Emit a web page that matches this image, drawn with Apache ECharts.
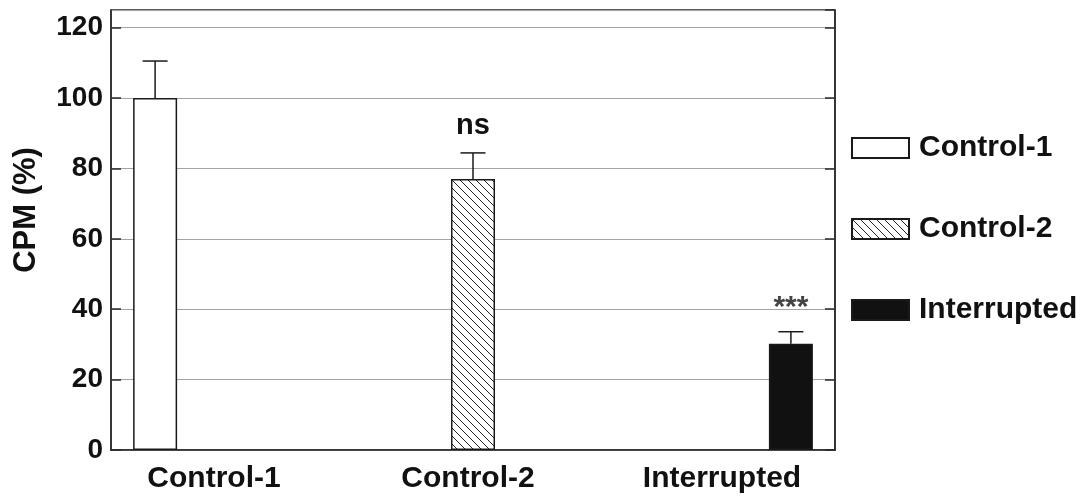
<!DOCTYPE html>
<html>
<head>
<meta charset="utf-8">
<style>
  html, body { margin: 0; padding: 0; background: #fff; }
  #chart { width: 1088px; height: 498px; }
</style>
<script src="https://cdn.jsdelivr.net/npm/echarts@6/dist/echarts.min.js"></script>
</head>
<body>
<div id="chart"></div>
<script>
// Group names, mean CPM (%) and SEM for each group
const categories = ['Control-1', 'Control-2', 'Interrupted'];
const meanValues = [100, 77, 30.2];
const errValues = [10.5, 7.4, 3.4];
const sigLabels = ['', 'ns', '***'];

const FONT = '"Liberation Sans", Arial, Helvetica, sans-serif';
const BAR_W = 44;
const BAR_GAP = 0.74;

// diagonal hatch tile for the Control-2 bar
function hatchPattern() {
  const s = 8;
  const c = document.createElement('canvas');
  c.width = s; c.height = s;
  const g = c.getContext('2d');
  g.fillStyle = '#fff';
  g.fillRect(0, 0, s, s);
  g.strokeStyle = '#222';
  g.lineWidth = 1;
  for (let k = -1; k <= 1; k++) {
    g.beginPath();
    g.moveTo(k * s, 0);
    g.lineTo(k * s + s, s);
    g.stroke();
  }
  return c;
}

const fills = ['#ffffff', { image: hatchPattern(), repeat: 'repeat' }, '#111111'];

const chart = echarts.init(document.getElementById('chart'), null, { renderer: 'canvas' });

// one series per group, each holding a value only in its own category
const barSeries = categories.map((name, i) => ({
  name: name,
  type: 'bar',
  xAxisIndex: 0,
  yAxisIndex: 0,
  barWidth: BAR_W,
  barGap: (BAR_GAP * 100) + '%',
  itemStyle: { color: fills[i], borderColor: '#1a1a1a', borderWidth: 1.5 },
  data: categories.map((_, j) => (j === i ? meanValues[i] : '-')),
  z: 2
}));

const errorData = categories.map((_, i) => [i, meanValues[i], errValues[i]]);

const errorSeries = {
  type: 'custom',
  xAxisIndex: 0,
  yAxisIndex: 0,
  data: errorData,
  z: 3,
  silent: true,
  renderItem: function (params, api) {
    const idx = api.value(0);
    const mean = api.value(1);
    const err = api.value(2);
    const shift = (idx - 1) * BAR_W * (1 + BAR_GAP);
    const base = api.coord([idx, mean]);
    const top = api.coord([idx, mean + err]);
    const x = base[0] + shift;
    const lineStyle = { stroke: '#1a1a1a', lineWidth: 1.5 };
    const children = [
      { type: 'line', shape: { x1: x, y1: base[1], x2: x, y2: top[1] }, style: lineStyle },
      { type: 'line', shape: { x1: x - 12.5, y1: top[1], x2: x + 12.5, y2: top[1] }, style: lineStyle }
    ];
    const sig = sigLabels[params.dataIndex];
    if (sig) {
      const stars = sig.indexOf('*') >= 0;
      children.push({
        type: 'text',
        x: x,
        y: top[1] - (stars ? 24 : 27),
        style: {
          text: sig,
          fontFamily: FONT,
          fontWeight: 'bold',
          fontSize: stars ? 30 : 29,
          fill: stars ? '#444' : '#111',
          align: 'center',
          verticalAlign: 'middle'
        }
      });
    }
    return { type: 'group', children: children };
  }
};

const yCommon = {
  type: 'value',
  min: 0,
  max: 125,
  interval: 20
};

chart.setOption({
  animation: false,
  backgroundColor: '#ffffff',
  grid: [
    { left: 111, right: 253, top: 10, bottom: 48, show: true, borderColor: '#2a2a2a', borderWidth: 1.5, backgroundColor: 'transparent' },
    { left: 87, right: 239, top: 10, bottom: 48, show: false }
  ],
  legend: {
    orient: 'vertical',
    left: 851,
    top: 133,
    padding: 0,
    itemWidth: 57,
    itemHeight: 20,
    itemGap: 51,
    icon: 'rect',
    data: categories,
    textStyle: { fontFamily: FONT, fontWeight: 'bold', fontSize: 30, color: '#111', padding: [0, 0, 0, 5] }
  },
  xAxis: [
    {
      type: 'category',
      gridIndex: 0,
      data: categories,
      axisLine: { lineStyle: { color: '#2a2a2a', width: 1.5 } },
      axisTick: { show: false },
      axisLabel: { show: false },
      splitLine: { show: false }
    },
    {
      type: 'category',
      gridIndex: 1,
      data: categories,
      axisLine: { show: false },
      axisTick: { show: false },
      splitLine: { show: false },
      axisLabel: { fontFamily: FONT, fontWeight: 'bold', fontSize: 30, color: '#111', margin: 14 }
    }
  ],
  yAxis: [
    Object.assign({}, yCommon, {
      gridIndex: 0,
      position: 'left',
      name: 'CPM (%)',
      nameLocation: 'middle',
      nameGap: 69,
      nameTextStyle: { fontFamily: FONT, fontWeight: 'bold', fontSize: 31, color: '#111', padding: [0, 0, 0, 40] },
      axisLine: { show: true, lineStyle: { color: '#2a2a2a', width: 1.5 } },
      axisTick: { show: true, inside: true, length: 10, lineStyle: { color: '#2a2a2a', width: 1.5 } },
      axisLabel: { fontFamily: FONT, fontWeight: 'bold', fontSize: 28, color: '#111', margin: 8, showMaxLabel: false },
      splitLine: { show: true, lineStyle: { color: '#a3a3a3', width: 1 } }
    }),
    Object.assign({}, yCommon, {
      gridIndex: 0,
      position: 'right',
      axisLine: { show: true, lineStyle: { color: '#2a2a2a', width: 1.5 } },
      axisTick: { show: true, inside: true, length: 10, lineStyle: { color: '#2a2a2a', width: 1.5 } },
      axisLabel: { show: false },
      splitLine: { show: false }
    }),
    {
      type: 'value',
      gridIndex: 1,
      show: false
    }
  ],
  series: barSeries.concat([errorSeries])
});
</script>
</body>
</html>
